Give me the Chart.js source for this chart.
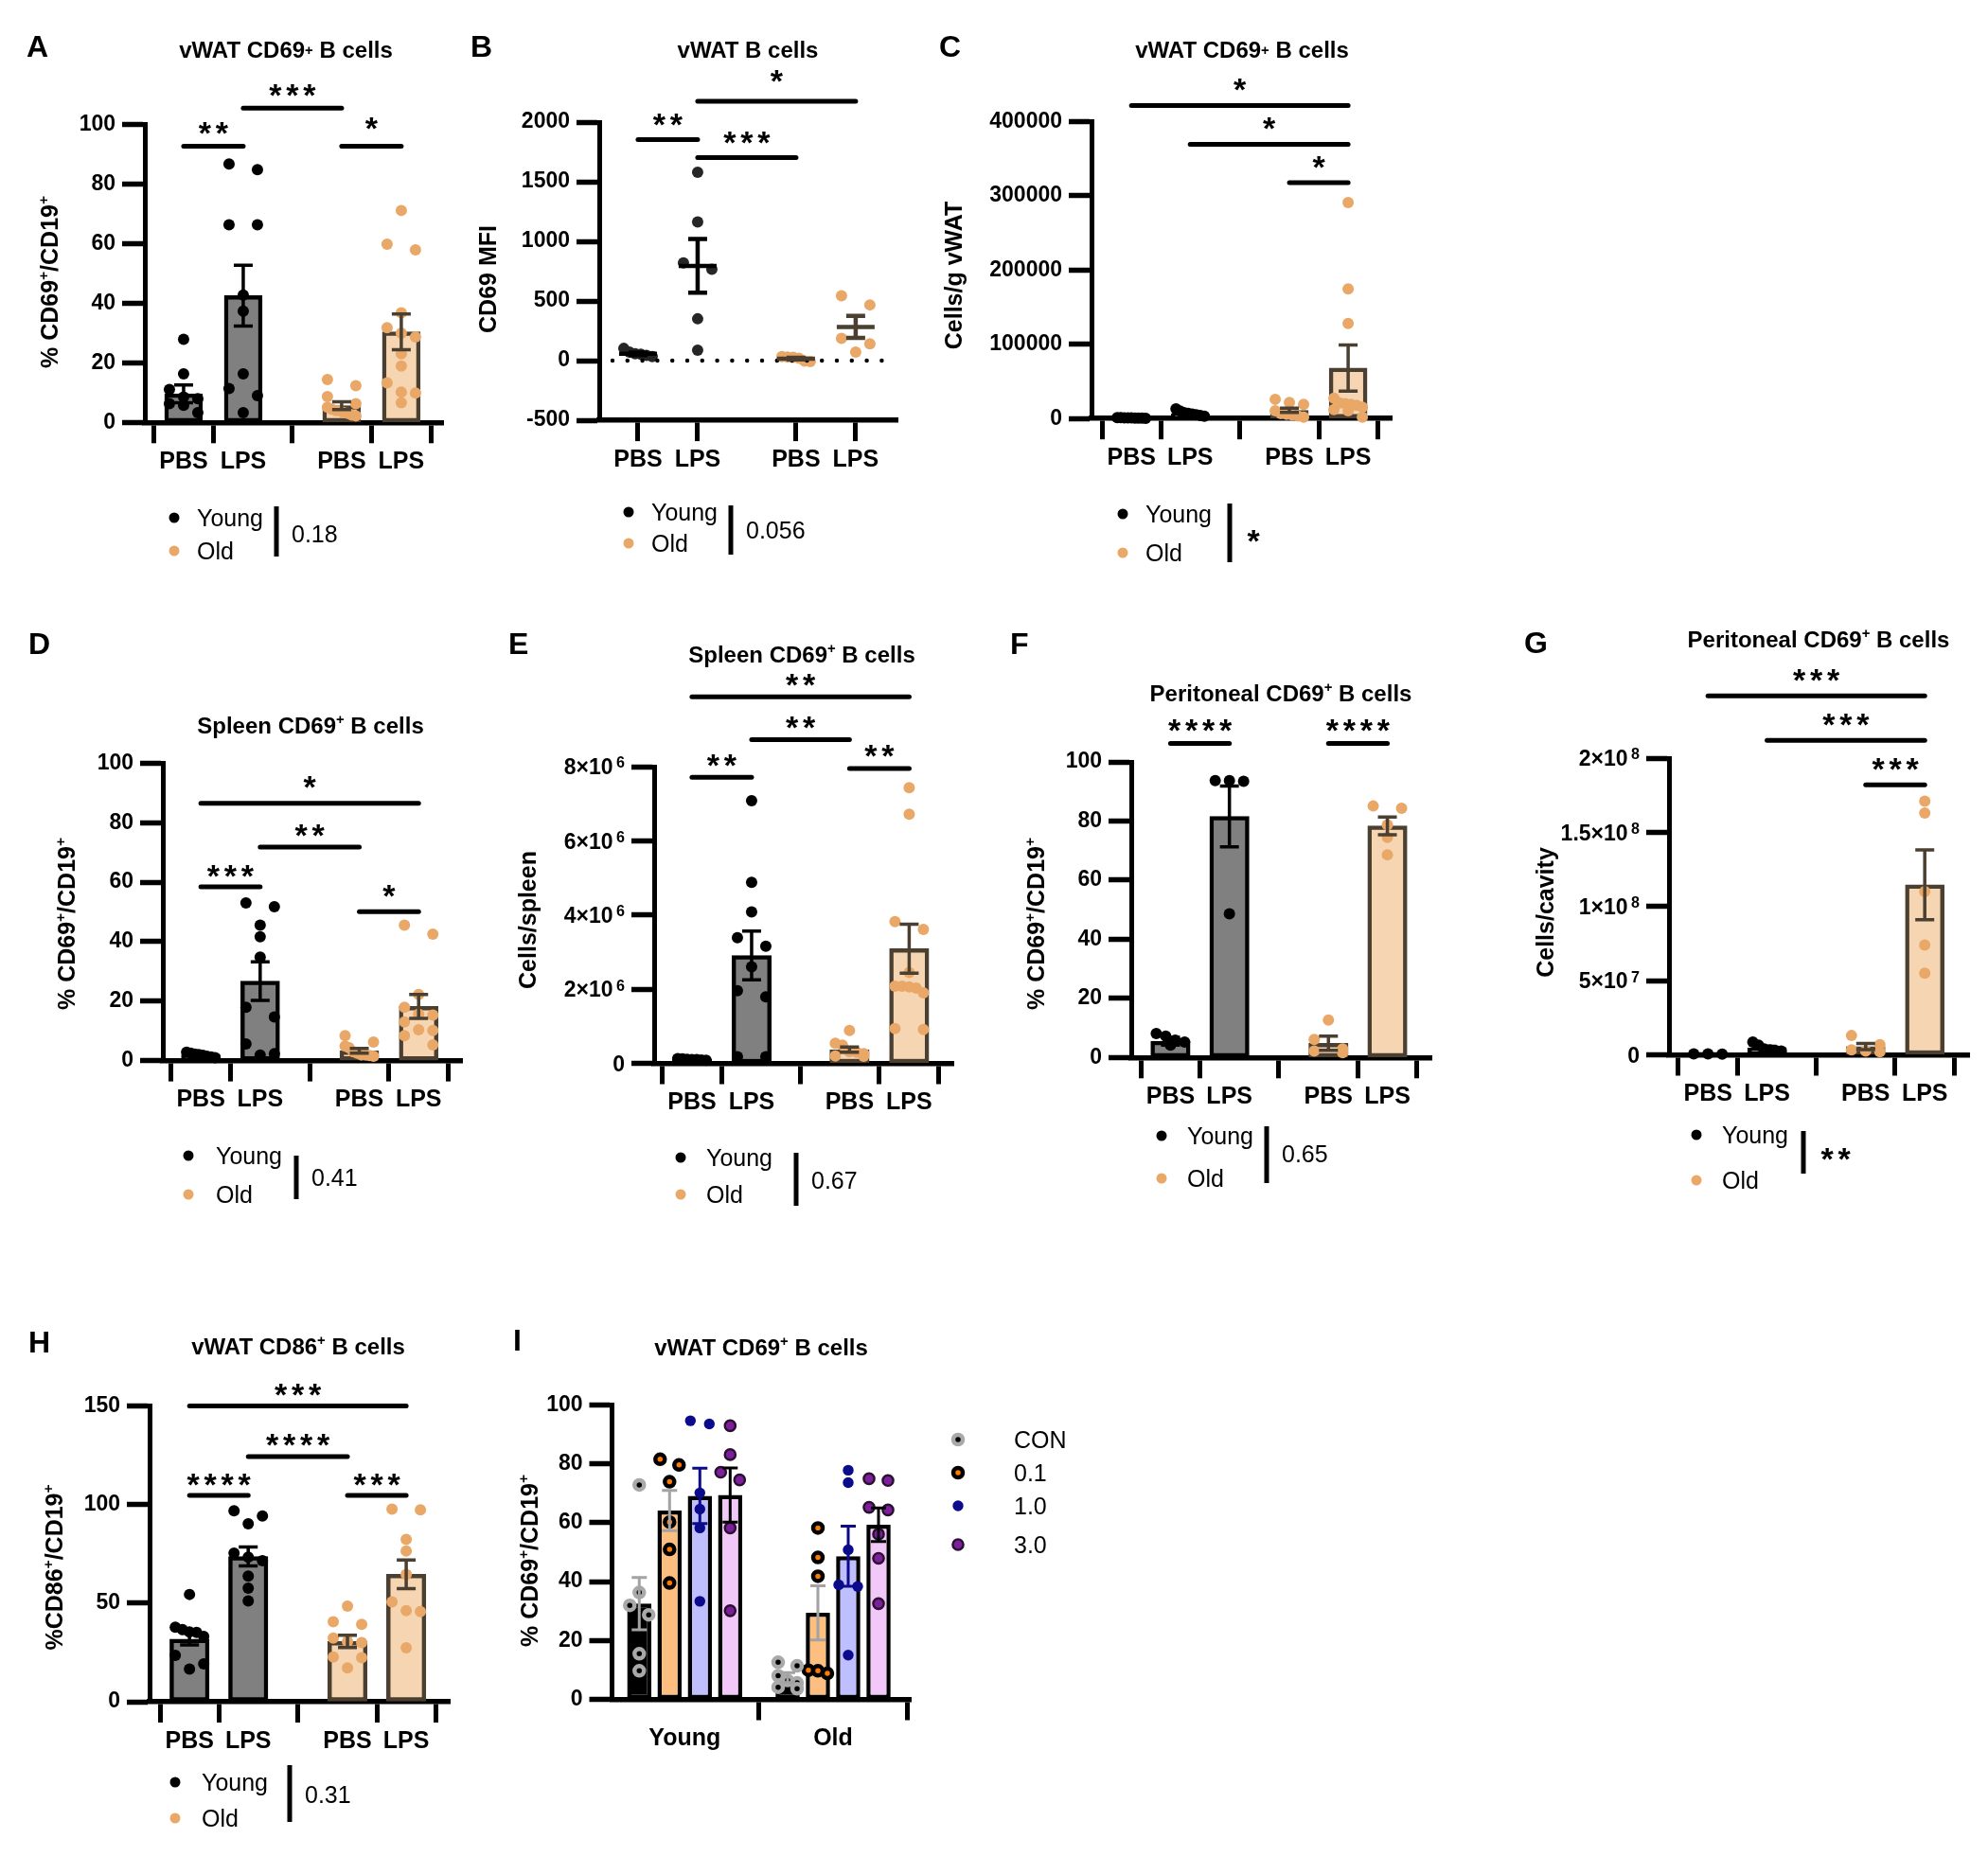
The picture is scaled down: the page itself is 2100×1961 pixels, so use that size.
<!DOCTYPE html>
<html>
<head>
<meta charset="utf-8">
<script src="https://cdn.jsdelivr.net/npm/chart.js@4.4.1/dist/chart.umd.min.js"></script>
<style>
html, body { margin: 0; padding: 0; background: #ffffff; }
body { width: 2100px; height: 1961px; position: relative; overflow: hidden; }
canvas { position: absolute; }
</style>
</head>
<body>
<script>
// ================= DATA =================
const xGroupLabels = ['PBS', 'LPS', 'PBS', 'LPS'];
const legendLabels = ['Young', 'Old'];

// y-axis ticks / labels
const pctTicks = [0, 20, 40, 60, 80, 100];
const pctTickLabels = ['0', '20', '40', '60', '80', '100'];
const bTicks = [-500, 0, 500, 1000, 1500, 2000];
const bTickLabels = ['-500', '0', '500', '1000', '1500', '2000'];
const cTicks = [0, 100000, 200000, 300000, 400000];
const cTickLabels = ['0', '100000', '200000', '300000', '400000'];
const eTicks = [0, 2e6, 4e6, 6e6, 8e6];
const eTickLabels = ['0', '2×10⁶', '4×10⁶', '6×10⁶', '8×10⁶'];
const gTicks = [0, 5e7, 1e8, 1.5e8, 2e8];
const gTickLabels = ['0', '5×10⁷', '1×10⁸', '1.5×10⁸', '2×10⁸'];
const hTicks = [0, 50, 100, 150];
const hTickLabels = ['0', '50', '100', '150'];

// Panel A: vWAT CD69+ B cells (% CD69+/CD19+)
const aMeans = [9.6, 42.6, 5.6, 30.4];
const aSem = [3.0, 10.2, 1.3, 6.0];
const aYoungPBS = [27.9, 16.3, 11.1, 8.5, 8.0, 5.7, 6.3, 3.3];
const aYoungLPS = [86.8, 84.9, 66.4, 66.4, 42.8, 37.4, 16.3, 11.4, 9.0, 3.3];
const aOldPBS = [14.4, 12.3, 8.7, 6.3, 5.1, 4.5, 3.9, 3.3, 2.2, 4.0, 3.0, 2.5];
const aOldLPS = [71.2, 59.9, 58.0, 36.8, 31.8, 30.0, 28.7, 23.1, 18.9, 13.3, 10.2, 9.9, 6.6];
const aBrackets = [[0, 1, '**', 92.8], [1, 2, '***', 105.6], [2, 3, '*', 92.8]];
const aInteraction = '0.18';

// Panel B: vWAT B cells (CD69 MFI)
const bMeans = [58, 795, 17, 283];
const bSem = [11, 225, 7, 92];
const bYoungPBS = [103, 44, 58, 73, 34, 55];
const bYoungLPS = [1580, 1164, 820, 766, 351, 88];
const bOldPBS = [-3, 28, 34, 30, 20, -7];
const bOldLPS = [544, 468, 187, 142, 73];
const bBrackets = [[0, 1, '**', 1854], [1, 2, '***', 1704], [1, 3, '*', 2176]];
const bInteraction = '0.056';

// Panel C: vWAT CD69+ B cells (Cells/g vWAT)
const cMeans = [900, 6500, 11000, 68000];
const cSem = [150, 1200, 2800, 31000];
const cYoungPBS = [500, 800, 1000, 1200, 600, 900, 700, 400, 1100];
const cYoungLPS = [13000, 10000, 8000, 6000, 5000, 4000, 3000, 7000];
const cOldPBS = [25900, 19200, 21600, 10500, 3400, 6700, 1900, 5800, 4800];
const cOldLPS = [291000, 174600, 128000, 27300, 21000, 20100, 17700, 15300, 19000, 10500, 12000, 1900];
const cBrackets = [[0, 3, '*', 421600], [1, 3, '*', 369300], [2, 3, '*', 317600]];
const cInteraction = '*';

// Panel D: Spleen CD69+ B cells (%)
const dMeans = [1.9, 26.7, 3.3, 18.2];
const dSem = [0.25, 6.5, 0.8, 4.0];
const dYoungPBS = [2.5, 2.0, 1.5, 1.8, 2.2, 1.2, 1.0, 2.8];
const dYoungLPS = [51.7, 53.0, 45.5, 41.6, 34.8, 17.9, 14.7, 5.6, 2.3, 1.9];
const dOldPBS = [8.4, 6.2, 4.9, 4.3, 3.0, 1.9, 1.9, 1.7, 1.5, 2.5];
const dOldLPS = [45.5, 42.5, 22.2, 17.9, 15.6, 15.3, 13.0, 10.1, 10.4, 8.4, 5.3];
const dBrackets = [[0, 3, '*', 86.5], [1, 2, '**', 71.8], [0, 1, '***', 58.4], [2, 3, '*', 50.1]];
const dInteraction = '0.41';

// Panel E: Spleen CD69+ B cells (Cells/spleen)
const eMeans = [1.05e5, 2.91e6, 0.37e6, 3.09e6];
const eSem = [0.05e5, 0.655e6, 0.07e6, 0.66e6];
const eYoungPBS = [1.2e5, 1.0e5, 1.1e5, 0.9e5, 1.3e5, 1.0e5, 0.8e5];
const eYoungLPS = [7.08e6, 4.88e6, 4.08e6, 3.39e6, 3.16e6, 2.6e6, 1.79e6, 1.96e6, 0.18e6, 0.18e6];
const eOldPBS = [0.885e6, 0.49e6, 0.54e6, 0.31e6, 0.30e6, 0.19e6, 0.20e6, 0.26e6];
const eOldLPS = [7.43e6, 6.72e6, 3.82e6, 3.61e6, 2.45e6, 2.06e6, 2.03e6, 2.08e6, 2.08e6, 1.9e6, 0.91e6, 0.94e6];
const eBrackets = [[0, 3, '**', 9.88e6], [1, 2, '**', 8.73e6], [0, 1, '**', 7.71e6], [2, 3, '**', 7.95e6]];
const eInteraction = '0.67';

// Panel F: Peritoneal CD69+ B cells (%)
const fMeans = [5.5, 81.6, 4.8, 78.4];
const fSem = [1.3, 10.3, 2.4, 3.0];
const fYoungPBS = [8.1, 7.2, 5.9, 5.2, 4.2];
const fYoungLPS = [93.7, 93.5, 93.7, 48.6];
const fOldPBS = [12.7, 6.1, 2.9, 1.6, 2.2];
const fOldLPS = [85.1, 84.3, 78.7, 74.5, 68.6];
const fBrackets = [[0, 1, '****', 106.3], [2, 3, '****', 106.3]];
const fInteraction = '0.65';

// Panel G: Peritoneal CD69+ B cells (Cells/cavity)
const gMeans = [0.6e6, 4.7e6, 5.6e6, 114.6e6];
const gSem = [0.06e6, 1.0e6, 2.1e6, 23.5e6];
const gYoungPBS = [0.6e6, 0.5e6, 0.7e6];
const gYoungLPS = [8.6e6, 6.5e6, 2.9e6, 2.6e6, 3.4e6, 4.0e6];
const gOldPBS = [13e6, 6.8e6, 2.1e6, 2.6e6, 3.4e6];
const gOldLPS = [171e6, 163e6, 110e6, 74e6, 55e6];
const gBrackets = [[0, 3, '***', 242e6], [1, 3, '***', 212e6], [2, 3, '***', 182e6]];
const gInteraction = '**';

// Panel H: vWAT CD86+ B cells (%CD86+/CD19+)
const hMeans = [31.8, 73.6, 30.6, 64.6];
const hSem = [3.0, 4.8, 3.1, 7.2];
const hYoungPBS = [54.4, 35.4, 35.2, 36.6, 37.8, 33.1, 23.5, 19.2, 16.6];
const hYoungLPS = [96.8, 94.2, 90.2, 75.3, 73.3, 71.5, 63.7, 57.6, 51.1];
const hOldPBS = [48.5, 39.2, 40.5, 32.3, 30.0, 30.5, 22.7, 22.3, 17.1];
const hOldLPS = [97.3, 97.7, 82.3, 76.4, 64.5, 50.6, 46.2, 45.7, 27.4];
const hBrackets = [[0, 3, '***', 150], [1, 2, '****', 124.3], [0, 1, '****', 104.6], [2, 3, '***', 104.6]];
const hInteraction = '0.31';

// Panel I: vWAT CD69+ B cells by LPS dose
const iGroupLabels = ['Young', 'Old'];
const iDoseLabels = ['CON', '0.1', '1.0', '3.0'];
const iConMeans = [32.5, 7.4];
const i01Means = [64.1, 29.4];
const i10Means = [69.1, 48.6];
const i30Means = [69.4, 59.3];
const iConSem = [8.9, 1.7];
const i01Sem = [6.8, 9.2];
const i10Sem = [9.4, 10.2];
const i30Sem = [9.2, 5.7];
const iYoungCON = [72.8, 36.3, 31.9, 28.7, 15.5, 9.7];
const iYoung01 = [79.6, 81.5, 73.9, 60.2, 50.9, 39.5];
const iYoung10 = [93.5, 94.6, 70.1, 64.6, 58.2, 33.3];
const iYoung30 = [92.9, 83.1, 74.5, 77.1, 58.2, 30.1];
const iOldCON = [11.4, 12.6, 3.6, 4.1, 5.6, 6.4, 8.0];
const iOld01 = [58.2, 48.2, 41.8, 8.8, 9.9, 9.7];
const iOld10 = [77.8, 73.6, 50.8, 38.9, 38.3, 15.0];
const iOld30 = [74.9, 74.3, 65.2, 64.3, 56.1, 47.9, 32.5];

// ================= STYLE =================
const FF = '"Liberation Sans", Arial, Helvetica, sans-serif';
const C_YOUNG_DOT = '#000000';
const C_OLD_DOT = '#e9a867';
const C_YOUNG_BAR = '#808080';
const C_OLD_BAR = '#f6d6b2';
const C_YOUNG_EDGE = '#000000';
const C_OLD_EDGE = '#4b3f31';
const F_TICK = 23, F_XLAB = 25, F_TITLE = 24, F_YLAB = 25, F_LEG = 25, F_LETTER = 32, F_STAR = 34, STAR_SP = 18;
const Y_TICK_LEN = 24, Y_TICK_PAD = 7;

Chart.defaults.font.family = FF;
Chart.defaults.color = '#000';

const ylabCD69 = [['% CD69', 0], ['+', 1], ['/CD19', 0], ['+', 1]];
const ylabCD86 = [['%CD86', 0], ['+', 1], ['/CD19', 0], ['+', 1]];

const SUP_MAP = { '⁰': '0', '¹': '1', '²': '2', '³': '3', '⁴': '4', '⁵': '5', '⁶': '6', '⁷': '7', '⁸': '8', '⁹': '9' };
function toRich(label) {
  const parts = [];
  for (const ch of label) {
    const sup = SUP_MAP[ch] !== undefined;
    const t = sup ? SUP_MAP[ch] : ch;
    const kind = sup ? 3 : 0;
    if (parts.length && parts[parts.length - 1][1] === kind) parts[parts.length - 1][0] += t;
    else parts.push([t, kind]);
  }
  return parts;
}

function fontStr(size, bold) { return (bold ? 'bold ' : '') + size + 'px ' + FF; }

function drawRich(ctx, parts, x, y, size, bold, align, rotate) {
  ctx.save();
  ctx.translate(x, y);
  if (rotate) ctx.rotate(rotate);
  const sz = p => (p[1] === 3 ? size * 0.7 : (p[1] ? size * 0.62 : size));
  const gap = p => (p[1] === 3 ? size * 0.15 : 0);
  let w = 0;
  for (const p of parts) { ctx.font = fontStr(sz(p), bold); w += ctx.measureText(p[0]).width + gap(p); }
  let cx = align === 'center' ? -w / 2 : (align === 'right' ? -w : 0);
  const base = 0.36 * size;
  ctx.textAlign = 'left';
  ctx.textBaseline = 'alphabetic';
  ctx.fillStyle = '#000';
  for (const p of parts) {
    ctx.font = fontStr(sz(p), bold);
    const raise = p[1] === 1 ? 0.42 * size : (p[1] === 2 ? 0.12 * size : (p[1] === 3 ? 0.3 * size : 0));
    cx += gap(p);
    ctx.fillText(p[0], cx, base - raise);
    cx += ctx.measureText(p[0]).width;
  }
  ctx.restore();
}

function drawStars(ctx, s, cx, cy, size, sp) {
  ctx.save();
  ctx.font = fontStr(size, true);
  ctx.fillStyle = '#000';
  ctx.textAlign = 'center';
  ctx.textBaseline = 'alphabetic';
  const m = ctx.measureText('*');
  const base = cy + (m.actualBoundingBoxAscent - m.actualBoundingBoxDescent) / 2;
  const n = s.length;
  for (let i = 0; i < n; i++) ctx.fillText('*', cx + (i - (n - 1) / 2) * sp, base);
  ctx.restore();
}

function dot(ctx, x, y, r, fill, stroke, lw) {
  ctx.beginPath();
  ctx.arc(x, y, r, 0, Math.PI * 2);
  ctx.fillStyle = fill;
  ctx.fill();
  if (stroke) { ctx.strokeStyle = stroke; ctx.lineWidth = lw; ctx.stroke(); }
}

function drawErr(ctx, xPx, ys, mean, sem, capW, lw, color, meanW) {
  const yT = ys.getPixelForValue(mean + sem);
  const yB = ys.getPixelForValue(mean - sem);
  const yM = ys.getPixelForValue(mean);
  ctx.save();
  ctx.strokeStyle = color;
  ctx.lineWidth = lw;
  ctx.lineCap = 'butt';
  ctx.beginPath();
  ctx.moveTo(xPx, yT); ctx.lineTo(xPx, yB);
  ctx.moveTo(xPx - capW / 2, yT); ctx.lineTo(xPx + capW / 2, yT);
  ctx.moveTo(xPx - capW / 2, yB); ctx.lineTo(xPx + capW / 2, yB);
  if (meanW) { ctx.moveTo(xPx - meanW / 2, yM); ctx.lineTo(xPx + meanW / 2, yM); }
  ctx.stroke();
  ctx.restore();
}

// deterministic beeswarm: points whose pixel heights are within rowPx share a row and are spread symmetrically
function swarm(vals, cx, pxX, pxY, spreadPx, rowPx) {
  const order = vals.map((v, i) => i).sort((a, b) => vals[b] - vals[a]);
  const pts = [];
  let i = 0;
  while (i < order.length) {
    let j = i + 1;
    while (j < order.length && (vals[order[i]] - vals[order[j]]) * pxY < rowPx) j++;
    const k = j - i;
    for (let m = 0; m < k; m++) {
      const off = k === 1 ? 0 : -spreadPx + 2 * spreadPx * m / (k - 1);
      pts.push({ x: cx + off / pxX, y: vals[order[i + m]] });
    }
    i = j;
  }
  return pts;
}

const HX = 80;

function makeCanvas(box) {
  const cv = document.createElement('canvas');
  cv.width = box[2]; cv.height = box[3];
  cv.style.left = box[0] + 'px'; cv.style.top = box[1] + 'px';
  cv.style.width = box[2] + 'px'; cv.style.height = box[3] + 'px';
  document.body.appendChild(cv);
  return cv;
}

function axisScales(P) {
  const WY = P.area[0] - P.box[0];
  return {
    x: {
      type: 'linear', min: P.xMin, max: P.xMax, offset: false,
      afterBuildTicks: s => { s.ticks = P.xPos.map(v => ({ value: v })); },
      afterFit: s => { s.height = HX; s.paddingLeft = 0; s.paddingRight = 0; s.paddingTop = 0; s.paddingBottom = 0; },
      grid: { display: true, drawOnChartArea: false, drawTicks: true, tickLength: 22, tickWidth: 5, tickColor: '#000', color: '#000' },
      border: { display: true, width: 5.5, color: '#000' },
      ticks: { autoSkip: false, maxRotation: 0, minRotation: 0, padding: 5, color: '#000',
               font: { family: FF, size: F_XLAB, weight: 'bold' },
               callback: (v, i) => P.xLabels[i] }
    },
    y: {
      type: 'linear', min: P.yMin, max: P.yMax,
      afterBuildTicks: s => { s.ticks = P.yTicks.map(v => ({ value: v })); },
      afterFit: s => { s.width = WY; s.paddingTop = 0; s.paddingBottom = 0; s.paddingLeft = 0; s.paddingRight = 0; },
      grid: { display: true, drawOnChartArea: false, drawTicks: true, tickLength: Y_TICK_LEN, tickWidth: 5.5, tickColor: '#000', color: '#000' },
      border: { display: true, width: 5, color: '#000' },
      ticks: { autoSkip: false, padding: Y_TICK_PAD, color: '#000',
               font: { family: FF, size: F_TICK, weight: 'bold' },
               callback: (v, i) => (P.richTicks ? '' : P.yTickLabels[i]) }
    }
  };
}

function drawRichTicks(chart, P) {
  if (!P.richTicks) return;
  const ys = chart.scales.y, ctx = chart.ctx;
  ys.ticks.forEach((t, i) => {
    drawRich(ctx, toRich(P.yTickLabels[i]), ys.right - Y_TICK_LEN - Y_TICK_PAD, ys.getPixelForValue(t.value), F_TICK, true, 'right', 0);
  });
}

function padFor(P) {
  const [bx, by, bw, bh] = P.box;
  const [al, at, ar, ab] = P.area;
  return { left: 0, top: at - by, right: bx + bw - ar, bottom: by + bh - ab - HX };
}

function drawPageText(ctx, P) {
  ctx.save();
  ctx.translate(-P.box[0], -P.box[1]);
  ctx.font = fontStr(F_LETTER, true);
  ctx.fillStyle = '#000';
  ctx.textAlign = 'left';
  ctx.textBaseline = 'alphabetic';
  ctx.fillText(P.letter, P.letterXY[0], P.letterXY[1] + 0.36 * F_LETTER);
  drawRich(ctx, P.title, P.titleXY[0], P.titleXY[1], F_TITLE, true, 'center', 0);
  drawRich(ctx, P.ylabel, P.ylabelXY[0], P.ylabelXY[1], F_YLAB, true, 'center', -Math.PI / 2);
  if (P.legend) {
    const [dx, tx, yY, oY, barX, b1, b2, vX, vY] = P.legend;
    dot(ctx, dx, yY, 5.5, C_YOUNG_DOT);
    dot(ctx, dx, oY, 5.5, C_OLD_DOT);
    drawRich(ctx, [[legendLabels[0], 0]], tx, yY, F_LEG, false, 'left', 0);
    drawRich(ctx, [[legendLabels[1], 0]], tx, oY, F_LEG, false, 'left', 0);
    ctx.strokeStyle = '#000'; ctx.lineWidth = 5; ctx.lineCap = 'butt';
    ctx.beginPath(); ctx.moveTo(barX, b1); ctx.lineTo(barX, b2); ctx.stroke();
    if (P.pval.indexOf('*') >= 0) drawStars(ctx, P.pval, vX + 7 + (P.pval.length - 1) * STAR_SP / 2, vY, F_STAR, STAR_SP);
    else drawRich(ctx, [[P.pval, 0]], vX, vY, F_LEG, false, 'left', 0);
  }
  ctx.restore();
}

function makeStdPanel(P) {
  const cv = makeCanvas(P.box);
  const [al, at, ar, ab] = P.area;
  const pxX = (ar - al) / (P.xMax - P.xMin);
  const pxY = (ab - at) / (P.yMax - P.yMin);
  const datasets = [];
  P.groups.forEach((vals, gi) => {
    const old = gi >= 2;
    datasets.push({
      type: 'scatter', data: swarm(vals, P.xPos[gi], pxX, pxY, 15, 11),
      backgroundColor: old ? C_OLD_DOT : P.youngDot || C_YOUNG_DOT,
      pointRadius: 6, pointBorderWidth: 0, pointHoverRadius: 6, clip: false, order: 1
    });
  });
  if (P.bars) {
    datasets.push({
      type: 'bar', data: P.means.map((m, i) => ({ x: P.xPos[i], y: m })),
      backgroundColor: [C_YOUNG_BAR, C_YOUNG_BAR, C_OLD_BAR, C_OLD_BAR],
      borderColor: [C_YOUNG_EDGE, C_YOUNG_EDGE, C_OLD_EDGE, C_OLD_EDGE],
      borderWidth: 4.5, borderSkipped: false, barThickness: P.barW, clip: false, order: 5
    });
  }
  const plug = {
    id: 'panel' + P.letter,
    afterDraw(chart) {
      const ctx = chart.ctx, xs = chart.scales.x, ys = chart.scales.y;
      drawRichTicks(chart, P);
      if (P.zeroLine) {
        const y0 = ys.getPixelForValue(0);
        ctx.save();
        ctx.strokeStyle = '#000'; ctx.lineWidth = 4.5; ctx.lineCap = 'round';
        ctx.setLineDash([0, 15.8]);
        ctx.beginPath(); ctx.moveTo(chart.chartArea.left + 14, y0); ctx.lineTo(chart.chartArea.right - 8, y0); ctx.stroke();
        ctx.restore();
      }
      P.means.forEach((m, i) => {
        const cx = xs.getPixelForValue(P.xPos[i]);
        drawErr(ctx, cx, ys, m, P.sems[i], 20, P.bars ? 3.5 : 4.5, i >= 2 ? C_OLD_EDGE : '#000', P.bars ? 0 : 40);
      });
      P.brackets.forEach(([g1, g2, stars, lvl]) => {
        const x1 = xs.getPixelForValue(P.xPos[g1]);
        const x2 = xs.getPixelForValue(P.xPos[g2]);
        const y = ys.getPixelForValue(lvl);
        ctx.save();
        ctx.strokeStyle = '#000'; ctx.lineWidth = 5; ctx.lineCap = 'round';
        ctx.beginPath(); ctx.moveTo(x1, y); ctx.lineTo(x2, y); ctx.stroke();
        ctx.restore();
        const gap = P.starGap + (stars.length === 1 ? 5 : 0);
        drawStars(ctx, stars, (x1 + x2) / 2, y - gap, F_STAR, STAR_SP);
      });
      drawPageText(ctx, P);
    }
  };
  new Chart(cv, {
    type: P.bars ? 'bar' : 'scatter',
    data: { datasets },
    options: {
      responsive: false, animation: false, devicePixelRatio: 1, events: [],
      layout: { padding: padFor(P) },
      plugins: { legend: { display: false }, title: { display: false }, tooltip: { enabled: false } },
      scales: axisScales(P)
    },
    plugins: [plug]
  });
}

const titleVWAT69small = [['vWAT CD69', 0], ['+', 2], [' B cells', 0]];
const titleSpleen = [['Spleen CD69', 0], ['+', 1], [' B cells', 0]];
const titlePerit = [['Peritoneal CD69', 0], ['+', 1], [' B cells', 0]];

const panels = [
  { letter: 'A', box: [0, 0, 490, 620], area: [153, 131.8, 468, 446.3], xPos: [0, 1, 2.65, 3.65], xMin: -0.65, xMax: 4.35,
    yMin: 0, yMax: 100, yTicks: pctTicks, yTickLabels: pctTickLabels, xLabels: xGroupLabels,
    groups: [aYoungPBS, aYoungLPS, aOldPBS, aOldLPS], means: aMeans, sems: aSem, bars: true, barW: 40,
    brackets: aBrackets, starGap: 19, title: titleVWAT69small, titleXY: [302, 52], letterXY: [28, 48],
    ylabel: ylabCD69, ylabelXY: [52, 298], legend: [184, 208, 547, 582, 292, 535, 588, 308, 564], pval: aInteraction },
  { letter: 'B', box: [485, 0, 490, 620], area: [633, 129.1, 948, 444.1], xPos: [0, 1, 2.65, 3.65], xMin: -0.65, xMax: 4.35,
    yMin: -500, yMax: 2000, yTicks: bTicks, yTickLabels: bTickLabels, xLabels: xGroupLabels,
    groups: [bYoungPBS, bYoungLPS, bOldPBS, bOldLPS], means: bMeans, sems: bSem, bars: false, zeroLine: true, youngDot: '#262626',
    brackets: bBrackets, starGap: 21, title: [['vWAT B cells', 0]], titleXY: [790, 52], letterXY: [497, 48],
    ylabel: [['CD69 MFI', 0]], ylabelXY: [515, 295], legend: [664, 688, 541, 574, 772, 534, 586, 788, 560], pval: bInteraction },
  { letter: 'C', box: [975, 0, 530, 620], area: [1153, 128.4, 1470, 442.2], xPos: [0, 1, 2.69, 3.69], xMin: -0.68, xMax: 4.43,
    yMin: 0, yMax: 400000, yTicks: cTicks, yTickLabels: cTickLabels, xLabels: xGroupLabels,
    groups: [cYoungPBS, cYoungLPS, cOldPBS, cOldLPS], means: cMeans, sems: cSem, bars: true, barW: 40,
    brackets: cBrackets, starGap: 17, title: titleVWAT69small, titleXY: [1312, 52], letterXY: [992, 48],
    ylabel: [['Cells/g vWAT', 0]], ylabelXY: [1007, 291], legend: [1186, 1210, 543, 584, 1299, 532, 594, 1317, 566], pval: cInteraction },
  { letter: 'D', box: [0, 650, 500, 640], area: [172, 806.3, 488, 1120.6], xPos: [0, 1, 2.67, 3.67], xMin: -0.64, xMax: 4.40,
    yMin: 0, yMax: 100, yTicks: pctTicks, yTickLabels: pctTickLabels, xLabels: xGroupLabels,
    groups: [dYoungPBS, dYoungLPS, dOldPBS, dOldLPS], means: dMeans, sems: dSem, bars: true, barW: 41,
    brackets: dBrackets, starGap: 17, title: titleSpleen, titleXY: [328, 766], letterXY: [30, 679],
    ylabel: ylabCD69, ylabelXY: [70, 976], legend: [199, 228, 1221, 1262, 313, 1221, 1267, 329, 1244], pval: dInteraction },
  { letter: 'E', box: [500, 650, 530, 640], area: [691, 810, 1007, 1123.5], xPos: [0, 1, 2.64, 3.64], xMin: -0.633, xMax: 4.379,
    yMin: 0, yMax: 8e6, yTicks: eTicks, yTickLabels: eTickLabels, richTicks: true, xLabels: xGroupLabels,
    groups: [eYoungPBS, eYoungLPS, eOldPBS, eOldLPS], means: eMeans, sems: eSem, bars: true, barW: 41.5,
    brackets: eBrackets, starGap: 18, title: titleSpleen, titleXY: [847, 691], letterXY: [537, 679],
    ylabel: [['Cells/spleen', 0]], ylabelXY: [557, 972], legend: [719, 746, 1223, 1262, 841, 1218, 1274, 857, 1247], pval: eInteraction },
  { letter: 'F', box: [1035, 650, 555, 640], area: [1195, 805.1, 1512, 1117.3], xPos: [0, 1, 2.68, 3.68], xMin: -0.665, xMax: 4.426,
    yMin: 0, yMax: 100, yTicks: pctTicks, yTickLabels: pctTickLabels, xLabels: xGroupLabels,
    groups: [fYoungPBS, fYoungLPS, fOldPBS, fOldLPS], means: fMeans, sems: fSem, bars: true, barW: 41.5,
    brackets: fBrackets, starGap: 19, title: titlePerit, titleXY: [1353, 732], letterXY: [1067, 679],
    ylabel: ylabCD69, ylabelXY: [1094, 976], legend: [1227, 1254, 1200, 1245, 1338, 1190, 1250, 1354, 1219], pval: fInteraction },
  { letter: 'G', box: [1590, 650, 510, 640], area: [1763, 801, 2080, 1114.5], xPos: [0, 1, 2.67, 3.67], xMin: -0.66, xMax: 4.42,
    yMin: 0, yMax: 2e8, yTicks: gTicks, yTickLabels: gTickLabels, richTicks: true, xLabels: xGroupLabels,
    groups: [gYoungPBS, gYoungLPS, gOldPBS, gOldLPS], means: gMeans, sems: gSem, bars: true, barW: 41,
    brackets: gBrackets, starGap: 22, title: titlePerit, titleXY: [1921, 675], letterXY: [1610, 678],
    ylabel: [['Cells/cavity', 0]], ylabelXY: [1632, 964], legend: [1792, 1819, 1199, 1247, 1905, 1195, 1240, 1923, 1219], pval: gInteraction },
  { letter: 'H', box: [0, 1395, 520, 566], area: [158, 1485.4, 475, 1798], xPos: [0, 1, 2.69, 3.69], xMin: -0.68, xMax: 4.43,
    yMin: 0, yMax: 150, yTicks: hTicks, yTickLabels: hTickLabels, xLabels: xGroupLabels,
    groups: [hYoungPBS, hYoungLPS, hOldPBS, hOldLPS], means: hMeans, sems: hSem, bars: true, barW: 41.5,
    brackets: hBrackets, starGap: 17, title: [['vWAT CD86', 0], ['+', 1], [' B cells', 0]], titleXY: [315, 1422], letterXY: [30, 1417],
    ylabel: ylabCD86, ylabelXY: [57, 1656], legend: [185, 213, 1883, 1921, 306, 1865, 1925, 322, 1896], pval: hInteraction }
];

panels.forEach(makeStdPanel);

// ---------------- Panel I ----------------
(function () {
  const P = { letter: 'I', box: [530, 1395, 670, 566], area: [646.5, 1484.3, 962.9, 1795.5], xPos: [0, 1], xMin: -0.49, xMax: 1.529,
    yMin: 0, yMax: 100, yTicks: pctTicks, yTickLabels: pctTickLabels, xLabels: iGroupLabels,
    title: [['vWAT CD69', 0], ['+', 1], [' B cells', 0]], titleXY: [804, 1423], letterXY: [542, 1415],
    ylabel: ylabCD69, ylabelXY: [559, 1649] };
  const catPct = 0.817, barPct = 0.8;
  const [al, at, ar, ab] = P.area;
  const pxX = (ar - al) / (P.xMax - P.xMin);
  const pxY = (ab - at) / (P.yMax - P.yMin);
  const doseMeans = [iConMeans, i01Means, i10Means, i30Means];
  const doseSems = [iConSem, i01Sem, i10Sem, i30Sem];
  const dosePts = [[iYoungCON, iOldCON], [iYoung01, iOld01], [iYoung10, iOld10], [iYoung30, iOld30]];
  const barFill = ['#000000', '#fdbf80', '#bfbfff', '#f1c8f7'];
  const errCol = ['#a3a3a3', '#a3a3a3', '#0b0b8c', '#000000'];
  const ptStyle = [
    { bg: '#000000', bc: '#a9a9a9', r: 5, bw: 4.5 },
    { bg: '#ff7a00', bc: '#000000', r: 5, bw: 4.5 },
    { bg: '#0b0b8c', bc: '#0b0b8c', r: 5.7, bw: 0 },
    { bg: '#7d1f9b', bc: '#2a1030', r: 5.6, bw: 2.4 }
  ];
  const slot = d => (d - 1.5) * catPct / 4;
  const datasets = [];
  dosePts.forEach((pair, d) => {
    const pts = [];
    pair.forEach((vals, g) => { pts.push(...swarm(vals, P.xPos[g] + slot(d), pxX, pxY, 10, 12)); });
    datasets.push({ type: 'scatter', data: pts, backgroundColor: ptStyle[d].bg, borderColor: ptStyle[d].bc,
      pointRadius: ptStyle[d].r, pointBorderWidth: ptStyle[d].bw, pointHoverRadius: ptStyle[d].r, clip: false, order: 1 });
  });
  doseMeans.forEach((means, d) => {
    datasets.push({ type: 'bar', label: iDoseLabels[d], data: means.map((m, g) => ({ x: P.xPos[g], y: m })),
      backgroundColor: barFill[d], borderColor: '#000', borderWidth: 4.5, borderSkipped: false,
      categoryPercentage: catPct, barPercentage: barPct, clip: false, order: 5 });
  });
  const plug = {
    id: 'panelI',
    afterDraw(chart) {
      const ctx = chart.ctx, xs = chart.scales.x, ys = chart.scales.y;
      doseMeans.forEach((means, d) => {
        means.forEach((m, g) => {
          drawErr(ctx, xs.getPixelForValue(P.xPos[g] + slot(d)), ys, m, doseSems[d][g], 16, 3, errCol[d], 0);
        });
      });
      drawPageText(ctx, P);
      ctx.save();
      ctx.translate(-P.box[0], -P.box[1]);
      const ly = [1521, 1556, 1591, 1632];
      iDoseLabels.forEach((lab, d) => {
        const st = ptStyle[d];
        dot(ctx, 1012, ly[d], st.r, st.bg, st.bw ? st.bc : null, st.bw);
        drawRich(ctx, [[lab, 0]], 1071, ly[d], F_LEG, false, 'left', 0);
      });
      ctx.restore();
    }
  };
  const cv = makeCanvas(P.box);
  new Chart(cv, {
    type: 'bar',
    data: { datasets },
    options: {
      responsive: false, animation: false, devicePixelRatio: 1, events: [],
      layout: { padding: padFor(P) },
      plugins: { legend: { display: false }, title: { display: false }, tooltip: { enabled: false } },
      scales: axisScales(P)
    },
    plugins: [plug]
  });
})();
</script>
</body>
</html>
